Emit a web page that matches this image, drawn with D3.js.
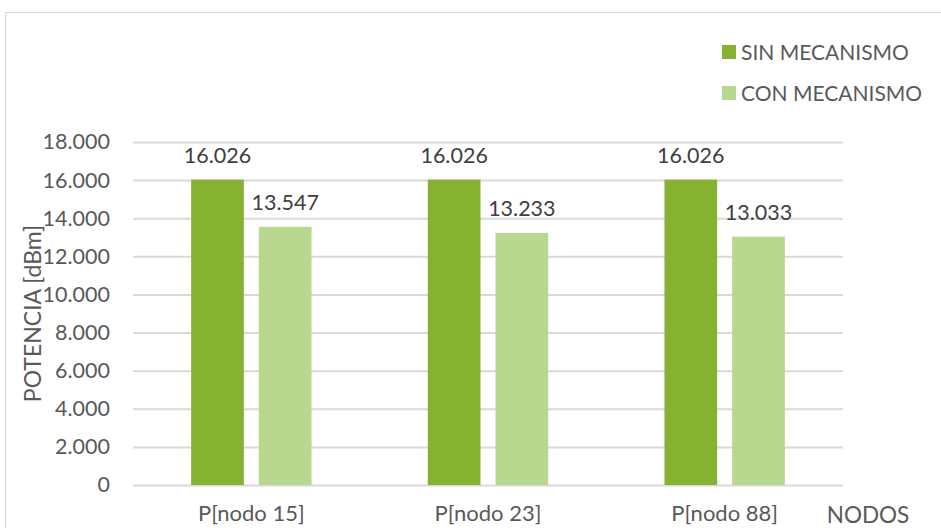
<!DOCTYPE html>
<html>
<head>
<meta charset="utf-8">
<script src="https://cdn.jsdelivr.net/npm/d3@7"></script>
<style>
  html, body { margin: 0; padding: 0; background: #fff; }
  svg { display: block; font-family: Lato, "Open Sans", sans-serif; }
</style>
</head>
<body>
<svg id="chart" width="941" height="528"></svg>
<script>
// Potencia recibida por nodo, con y sin mecanismo
const categories = ["P[nodo 15]", "P[nodo 23]", "P[nodo 88]"];
const seriesNames = ["SIN MECANISMO", "CON MECANISMO"];
const sinMecanismo = [16.026, 16.026, 16.026];
const conMecanismo = [13.547, 13.233, 13.033];
const yTicks = [0, 2, 4, 6, 8, 10, 12, 14, 16, 18];
const colors = ["#87b231", "#b8d78f"];

const svg = d3.select("#chart");
const textColor = "#595959";
const gridColor = "#d9d9d9";

// chart frame
svg.append("rect")
  .attr("x", 5.5).attr("y", 12.5)
  .attr("width", 1000).attr("height", 1000)
  .attr("fill", "none").attr("stroke", gridColor);

const plot = { left: 133, right: 843, top: 142, bottom: 485 };

const x = d3.scaleBand().domain(categories).range([plot.left, plot.right]);
const y = d3.scaleLinear().domain([0, 18]).range([plot.bottom, plot.top]);
const barW = 52.7, barGap = 15;

const fmt = v => v === 0 ? "0" : d3.format(".3f")(v);

// gridlines + tick labels
const yAxis = d3.axisLeft(y).tickValues(yTicks).tickSize(0).tickPadding(23).tickFormat(fmt);
const gy = svg.append("g").attr("transform", `translate(${plot.left},0)`).call(yAxis);
gy.select(".domain").remove();
gy.selectAll("text").attr("fill", textColor).attr("font-size", 21.5).attr("font-family", "Lato, sans-serif");
gy.selectAll(".tick").append("line")
  .attr("x1", 0).attr("x2", plot.right - plot.left)
  .attr("stroke", gridColor).attr("stroke-width", 2);

// bars
const series = [sinMecanismo, conMecanismo];
series.forEach((vals, si) => {
  const offs = si === 0 ? -barGap / 2 - barW : barGap / 2;
  const g = svg.append("g");
  g.selectAll("rect").data(vals).join("rect")
    .attr("x", (d, i) => x(categories[i]) + x.bandwidth() / 2 + offs)
    .attr("y", d => y(d))
    .attr("width", barW)
    .attr("height", d => y(0) - y(d))
    .attr("fill", colors[si]);
  g.selectAll("text").data(vals).join("text")
    .attr("x", (d, i) => x(categories[i]) + x.bandwidth() / 2 + offs + barW / 2)
    .attr("y", d => y(d) - 16.5)
    .attr("text-anchor", "middle")
    .attr("font-size", 21.5)
    .attr("fill", "#404040")
    .text(fmt);
});

// category labels
const xAxis = d3.axisBottom(x).tickSize(0).tickPadding(20);
const gx = svg.append("g").attr("transform", `translate(0,${plot.bottom})`).call(xAxis);
gx.select(".domain").remove();
gx.selectAll("text").attr("fill", textColor).attr("font-size", 22).attr("font-family", "Lato, sans-serif");

// axis titles
svg.append("text")
  .attr("x", 868).attr("y", 523)
  .attr("text-anchor", "middle").attr("font-size", 22.5).attr("fill", textColor)
  .text("NODOS");
svg.append("text")
  .attr("transform", `translate(41,${(plot.top + plot.bottom) / 2}) rotate(-90)`)
  .attr("text-anchor", "middle").attr("font-size", 23).attr("fill", textColor)
  .text("POTENCIA [dBm]");

// legend
const legend = svg.append("g").attr("transform", "translate(722,45)");
seriesNames.forEach((name, i) => {
  const row = legend.append("g").attr("transform", `translate(0,${i * 41})`);
  row.append("rect").attr("width", 14).attr("height", 14).attr("fill", colors[i]);
  row.append("text").attr("x", 19).attr("y", 15).attr("font-size", 21).attr("fill", textColor).text(name);
});
</script>
</body>
</html>
